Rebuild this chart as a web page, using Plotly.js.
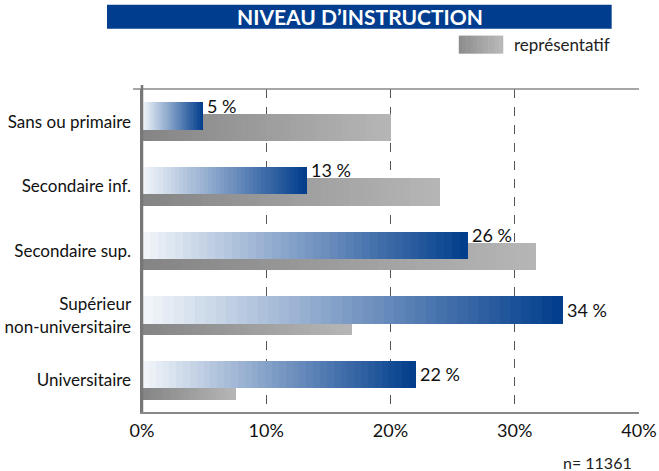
<!DOCTYPE html>
<html>
<head>
<meta charset="utf-8">
<script src="https://cdn.plot.ly/plotly-3.0.1.min.js"></script>
<style>html,body{margin:0;padding:0;background:#fff;}#chart{width:659px;height:471px;}</style>
</head>
<body>
<div id="chart"></div>
<script>
// ---- data ----
const categories = ['Sans ou primaire', 'Secondaire inf.', 'Secondaire sup.', 'Supérieur<br>non-universitaire', 'Universitaire'];
const echantillon = [4.93, 13.25, 26.25, 33.85, 22.04];
const representatif = [20.0, 23.97, 31.67, 16.87, 7.54];
const valueLabels = ['5 %', '13 %', '26 %', '34 %', '22 %'];
const tickVals = [0, 10, 20, 30, 40];
const tickLabels = ['0%', '10%', '20%', '30%', '40%'];
const titleText = 'NIVEAU D’INSTRUCTION';
const legendText = 'représentatif';
const sampleNote = 'n= 11361';

// ---- style ----
const FONT = 'Lato, "Open Sans", sans-serif';
const N = 40;
const blueFrom = [244, 247, 251], blueTo = [0, 60, 140];
const grayFrom = [132, 132, 132], grayTo = [182, 182, 182];
function lerp(a, b, t) {
  return 'rgb(' + a.map((v, k) => Math.round(v + (b[k] - v) * t)).join(',') + ')';
}
const barW = 0.423, blueOff = -0.2985, grayOff = -0.1235;

const traces = [];
function addGradientBars(vals, from, to, offset) {
  for (let i = 0; i < N; i++) {
    traces.push({
      type: 'bar', orientation: 'h', y: categories,
      x: vals.map(v => v / N * 1.002),
      base: vals.map(v => v * i / N),
      width: barW, offset: offset,
      marker: {color: lerp(from, to, (i + 0.5) / N), line: {width: 0}},
      hoverinfo: 'skip', showlegend: false
    });
  }
}
addGradientBars(representatif, grayFrom, grayTo, grayOff);
addGradientBars(echantillon, blueFrom, blueTo, blueOff);

const annotations = echantillon.map((v, i) => ({
  x: v, y: categories[i], xref: 'x', yref: 'y', text: valueLabels[i],
  showarrow: false, xanchor: 'left', yanchor: 'middle', xshift: 2,
  yshift: v < representatif[i] ? 16 : 6,
  font: {family: FONT, size: 18, color: '#111'}
}));
annotations.push({
  x: 0.744, y: 1.1373, xref: 'paper', yref: 'paper', text: legendText,
  showarrow: false, xanchor: 'left', yanchor: 'middle',
  font: {family: FONT, size: 17, color: '#222'}
});
annotations.push({
  x: 0.989, y: -0.155, xref: 'paper', yref: 'paper', text: sampleNote,
  showarrow: false, xanchor: 'right', yanchor: 'middle',
  font: {family: FONT, size: 16, color: '#222'}
});

const shapes = [
  {type: 'rect', xref: 'paper', yref: 'paper', x0: -0.0704, x1: 0.945, y0: 1.1869, y1: 1.2612,
   fillcolor: '#003d8f', line: {width: 0}, layer: 'below'},
  {type: 'line', xref: 'paper', yref: 'paper', x0: -0.018, x1: 1, y0: 1, y1: 1,
   line: {color: '#888', width: 1.5}},
  {type: 'line', xref: 'paper', yref: 'paper', x0: 0, x1: 0, y0: 0, y1: 1.012,
   line: {color: '#777', width: 2.5}}
];
const SW = 12;
for (let i = 0; i < SW; i++) {
  const x0 = 0.6374 + (0.7259 - 0.6374) * i / SW;
  const x1 = 0.6374 + (0.7259 - 0.6374) * (i + 1) / SW;
  shapes.push({type: 'rect', xref: 'paper', yref: 'paper', x0: x0, x1: x1 + 0.001, y0: 1.1094, y1: 1.1652,
    fillcolor: lerp([140, 140, 140], [186, 186, 186], (i + 0.5) / SW), line: {width: 0}});
}

const layout = {
  width: 659, height: 471,
  margin: {l: 142, r: 20, t: 89, b: 59},
  paper_bgcolor: '#fff', plot_bgcolor: '#fff',
  barmode: 'overlay', bargap: 0,
  title: {text: titleText, x: 360 / 659, xanchor: 'center', xref: 'container',
          y: 1 - 18 / 471, yanchor: 'middle', yref: 'container',
          font: {family: FONT, size: 21, color: '#fff', weight: 700}},
  xaxis: {range: [0, 40], tickvals: tickVals, ticktext: tickLabels,
          showgrid: true, griddash: 'dash', gridcolor: '#555', gridwidth: 1.3,
          zeroline: false, showline: true, linecolor: '#888', linewidth: 2,
          ticks: '', ticklabelstandoff: 1,
          tickfont: {family: FONT, size: 18, color: '#111'}, fixedrange: true},
  yaxis: {type: 'category', range: [4.492, -0.506], showgrid: false, zeroline: false,
          showline: true, linecolor: '#777', linewidth: 2.5, ticks: '', ticklabelstandoff: 5,
          tickfont: {family: FONT, size: 17, color: '#111'}, fixedrange: true},
  annotations: annotations,
  shapes: shapes,
  showlegend: false
};

Plotly.newPlot('chart', traces, layout, {displayModeBar: false, staticPlot: true});
</script>
</body>
</html>
